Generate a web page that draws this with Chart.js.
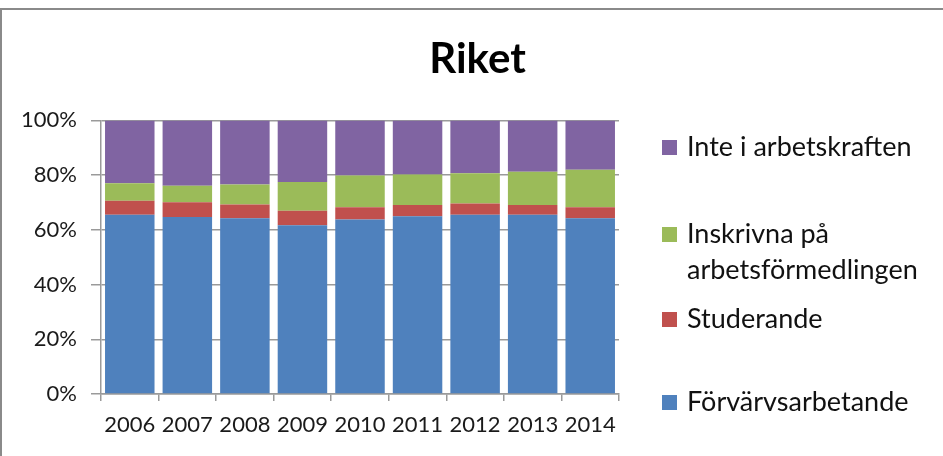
<!DOCTYPE html>
<html>
<head>
<meta charset="utf-8">
<script src="https://cdn.jsdelivr.net/npm/chart.js@4/dist/chart.umd.min.js"></script>
<style>
  html, body { margin: 0; padding: 0; background: #fff; }
  #wrap { position: relative; width: 943px; height: 456px; }
  #ram { position: absolute; left: 0; top: 8px; right: -5px; bottom: -5px;
         border-top: 2.5px solid #8a8a8a; border-left: 2.5px solid #8a8a8a; }
  canvas { position: absolute; left: 0; top: 0; }
</style>
</head>
<body>
<div id="wrap">
  <div id="ram"></div>
  <canvas id="myBarChart" width="943" height="456"></canvas>
</div>
<script>
var years = ['2006', '2007', '2008', '2009', '2010', '2011', '2012', '2013', '2014'];
var forvarvs = [65.5, 64.7, 64.2, 61.7, 63.8, 65.0, 65.5, 65.5, 64.2];
var studerande = [5.1, 5.4, 5.1, 5.3, 4.5, 4.1, 4.1, 3.6, 4.1];
var inskrivna = [6.4, 6.0, 7.3, 10.5, 11.6, 11.1, 11.1, 12.1, 13.7];
var inteArbetskraft = [23.0, 23.9, 23.4, 22.5, 20.1, 19.8, 19.3, 18.8, 18.0];
var yTicks = [0, 20, 40, 60, 80, 100];

var gridGray = '#9a9a9a';
var fontName = 'Lato';

// legend like Excel: reversed order, to the right, labels can wrap
var legendPlugin = {
  id: 'sidoLegend',
  afterDraw: function(chart) {
    var ctx = chart.ctx;
    var rows = [147, 234, 319, 402];
    var ds = chart.data.datasets.slice().reverse();
    ctx.save();
    ctx.font = '27px ' + fontName;
    ctx.textBaseline = 'middle';
    ctx.textAlign = 'left';
    ds.forEach(function(d, i) {
      var y = rows[i];
      ctx.fillStyle = d.backgroundColor;
      ctx.fillRect(662, y - 7, 15, 15);
      ctx.fillStyle = '#111';
      // wrap on words
      var words = d.label.split(' ');
      var lines = [], cur = '';
      words.forEach(function(w) {
        var test = cur ? cur + ' ' + w : w;
        if (ctx.measureText(test).width > 250 && cur) { lines.push(cur); cur = w; }
        else cur = test;
      });
      lines.push(cur);
      lines.forEach(function(l, j) { ctx.fillText(l, 687, y + j * 36); });
    });
    ctx.restore();
  }
};

var ctx = document.getElementById('myBarChart').getContext('2d');
var myBar = new Chart(ctx, {
  type: 'bar',
  data: {
    labels: years,
    datasets: [
      { label: 'Förvärvsarbetande', data: forvarvs, backgroundColor: '#4F81BD' },
      { label: 'Studerande', data: studerande, backgroundColor: '#C0504D' },
      { label: 'Inskrivna på arbetsförmedlingen', data: inskrivna, backgroundColor: '#9BBB59' },
      { label: 'Inte i arbetskraften', data: inteArbetskraft, backgroundColor: '#8064A2' }
    ]
  },
  options: {
    responsive: false,
    animation: false,
    layout: { padding: { left: 12, right: 0, top: 0, bottom: 0 } },
    datasets: { bar: { categoryPercentage: 1.0, barPercentage: 0.86, borderWidth: 0 } },
    plugins: {
      legend: { display: false },
      tooltip: { enabled: false },
      title: {
        display: true,
        text: 'Riket',
        color: '#000',
        font: { family: fontName, size: 42, weight: 'bold' },
        padding: { top: 34, bottom: 36 }
      }
    },
    scales: {
      x: {
        stacked: true,
        grid: { drawOnChartArea: false, tickLength: 7, color: gridGray, lineWidth: 1.5 },
        border: { color: gridGray, width: 1.5 },
        ticks: { color: '#1a1a1a', font: { family: fontName, size: 22 }, padding: 11,
                 maxRotation: 0, autoSkip: false },
        afterFit: function(s) { s.height = 62; }
      },
      y: {
        stacked: true,
        min: 0,
        max: 100,
        afterBuildTicks: function(s) { s.ticks = yTicks.map(function(v) { return { value: v }; }); },
        grid: { color: gridGray, lineWidth: 1.5, tickLength: 10 },
        border: { color: gridGray, width: 1.5 },
        ticks: { color: '#1a1a1a', font: { family: fontName, size: 22 }, padding: 14,
                 callback: function(v) { return v + '%'; } },
        afterFit: function(s) { s.width = 89; }
      },
      hoger: {
        position: 'right',
        display: true,
        grid: { display: false },
        border: { display: false },
        ticks: { display: false },
        afterFit: function(s) { s.width = 324; }
      }
    }
  },
  plugins: [legendPlugin]
});
</script>
</body>
</html>
